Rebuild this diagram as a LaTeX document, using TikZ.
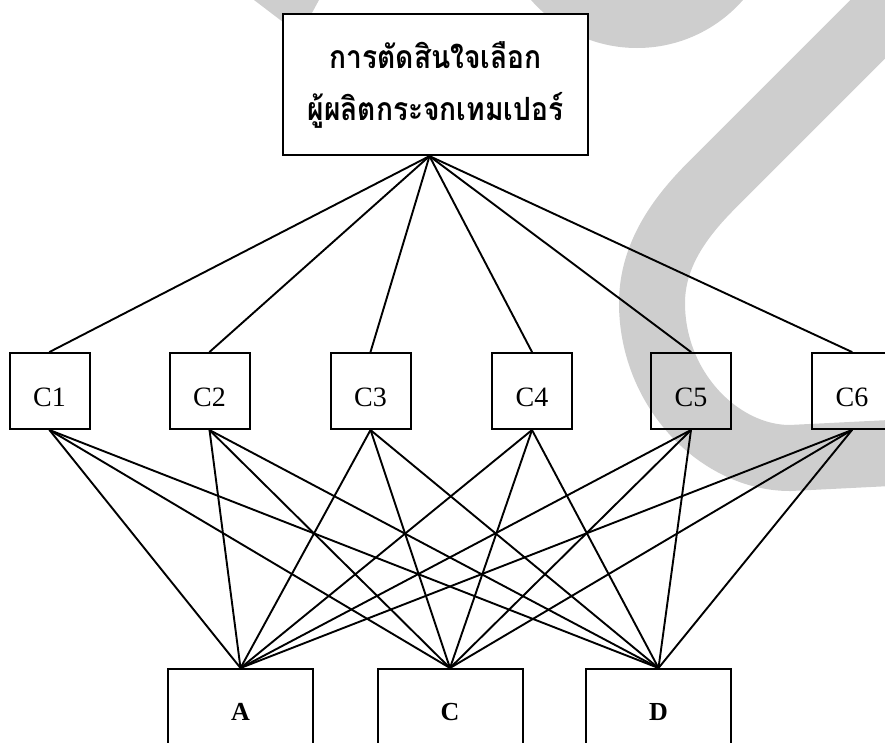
\documentclass[tikz,border=0pt]{standalone}
\usepackage{fontspec}
\setmainfont{Liberation Serif}
\newfontfamily\thaifont[Script=Thai,FakeStretch=0.88]{Loma}
\usepackage{tikz}
\definecolor{wmgray}{RGB}{206,206,206}

\begin{document}
\begin{tikzpicture}[x=1pt,y=-1pt,line cap=round,
			goal/.style={draw,line width=2.2pt,fill=white,minimum width=305pt,minimum height=141pt,
				align=center,font=\thaifont\bfseries\fontsize{32}{52}\selectfont},
			crit/.style={draw,line width=2pt,minimum width=80pt,minimum height=76pt,inner sep=0pt,
				text height=31pt,font=\fontsize{28}{28}\selectfont},
			alt/.style={draw,line width=2pt,minimum width=145pt,minimum height=86pt,inner sep=0pt,
				font=\bfseries\fontsize{26}{26}\selectfont},
			link/.style={line width=1.9pt}]
			\useasboundingbox (0,0) rectangle (885,742);
			% watermark behind the chart
			\fill[wmgray] (637,-93) circle (141);
			\fill[wmgray] (254,0) -- (319,0) -- (300,35) -- cycle;
			\draw[wmgray,line width=66pt,line cap=butt] (940,-43) -- (712,185)
				.. controls (680,217) and (652,255) .. (652,303)
				.. controls (652,390) and (720,458) .. (790,458) -- (910,452);
			
			\node[goal] (top) at (435.5,84.5) {การตัดสินใจเลือก\\ผู้ผลิตกระจกเทมเปอร์};
			\coordinate (apex) at ([xshift=-6pt]top.south);
			\foreach \X [count=\Y] in {49.5,209.5,370.5,532,691,852}
			{\node[crit] (c\Y) at (\X,391) {C\Y};}
			\node[alt] (A) at (240.5,712) {A};
			\node[alt] (C) at (450,712) {C};
			\node[alt] (D) at (658.5,712) {D};
			
			\foreach \Y in {1,...,6}
			{\draw[link] (apex) -- (c\Y.north);
				\foreach \Z in {A,C,D}
				{\draw[link] (c\Y.south) -- (\Z.north);}}
			%\draw[link,dashed] (apex) -- (C.north);
		\end{tikzpicture}
\end{document}
